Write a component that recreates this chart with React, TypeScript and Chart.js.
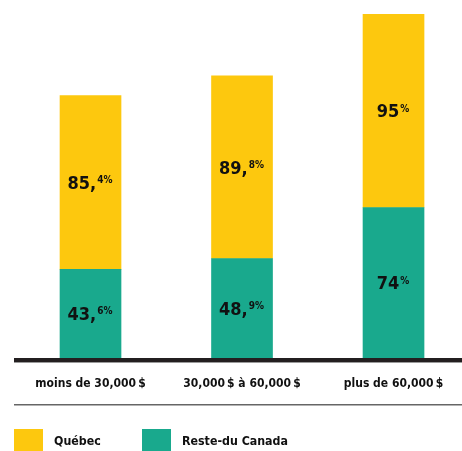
import React, { useEffect, useRef } from 'react';
import { Chart, registerables } from 'chart.js';

Chart.register(...registerables);

const categories = ['moins de 30,000\u2009$', '30,000\u2009$ à 60,000\u2009$', 'plus de 60,000\u2009$'];
const quebec = [85.4, 89.8, 95];
const resteDuCanada = [43.6, 48.9, 74];
const seriesLabels = ['Québec', 'Reste-du Canada'];
const seriesColors = ['#FDC80E', '#19A98D'];

const FONT = '"DejaVu Sans Condensed", "DejaVu Sans", sans-serif';

function splitValue(v: number): [string, string] {
  if (Number.isInteger(v)) return [String(v), '%'];
  const [a, b] = v.toFixed(1).split('.');
  return [a + ',', b + '%'];
}

const valueLabels = {
  id: 'valueLabels',
  afterDatasetsDraw(chart: any) {
    const ctx = chart.ctx;
    ctx.save();
    chart.data.datasets.forEach((ds: any, di: number) => {
      const meta = chart.getDatasetMeta(di);
      meta.data.forEach((bar: any, i: number) => {
        const raw = ds.data[i];
        const v = typeof raw === 'number' ? raw : raw.y;
        const [main, sup] = splitValue(v);
        const { x, y, base } = bar.getProps(['x', 'y', 'base'], true);
        const cy = (y + base) / 2;
        ctx.font = `bold 18px ${FONT}`;
        const w1 = ctx.measureText(main).width;
        ctx.font = `bold 10px ${FONT}`;
        const w2 = ctx.measureText(sup).width;
        const start = x - (w1 + w2) / 2 - 1;
        const baseline = cy + 6.5;
        ctx.fillStyle = '#111111';
        ctx.textAlign = 'left';
        ctx.textBaseline = 'alphabetic';
        ctx.font = `bold 18px ${FONT}`;
        ctx.fillText(main, start, baseline);
        ctx.font = `bold 10px ${FONT}`;
        ctx.fillText(sup, start + w1 + 1, baseline - 13 + 7.3);
      });
    });
    ctx.restore();
  },
};

const decorations = {
  id: 'decorations',
  afterDatasetsDraw(chart: any) {
    const ctx = chart.ctx;
    const { left, right, bottom } = chart.chartArea;
    ctx.save();
    ctx.fillStyle = '#231F20';
    ctx.fillRect(left, bottom, right - left, 4);
    ctx.fillStyle = '#9a9a9a';
    ctx.fillRect(left, bottom + 4, right - left, 1);
    ctx.fillStyle = '#666666';
    ctx.fillRect(left, bottom + 46, right - left, 1.5);
    // legend
    const items = [
      { label: seriesLabels[0], color: seriesColors[0], x: left },
      { label: seriesLabels[1], color: seriesColors[1], x: left + 128 },
    ];
    const top = bottom + 71;
    items.forEach((it) => {
      ctx.fillStyle = it.color;
      ctx.fillRect(it.x, top, 29, 25);
      ctx.fillStyle = '#111111';
      ctx.font = `bold 12.3px ${FONT}`;
      ctx.textAlign = 'left';
      ctx.textBaseline = 'middle';
      ctx.fillText(it.label, it.x + 40, top + 13);
    });
    ctx.restore();
  },
};

export default function App() {
  const ref = useRef<HTMLCanvasElement | null>(null);
  useEffect(() => {
    if (!ref.current) return;
    const chart = new Chart(ref.current, {
      type: 'bar',
      data: {
        datasets: [
          {
            label: seriesLabels[1],
            data: resteDuCanada.map((v, i) => ({ x: i, y: v })),
            backgroundColor: seriesColors[1],
            borderWidth: 0,
            barThickness: 61,
          },
          {
            label: seriesLabels[0],
            data: quebec.map((v, i) => ({ x: i, y: v })),
            backgroundColor: seriesColors[0],
            borderWidth: 0,
            barThickness: 61,
          },
        ],
      },
      options: {
        animation: false,
        responsive: false,
        devicePixelRatio: 1,
        layout: { padding: { left: 14, right: 0, top: 0, bottom: 0 } },
        plugins: { legend: { display: false }, tooltip: { enabled: false } },
        scales: {
          x: {
            type: 'linear',
            min: -0.505,
            max: 2.452,
            offset: false,
            stacked: true,
            grid: { display: false, offset: false },
            border: { display: false },
            afterBuildTicks: (s: any) => {
              s.ticks = categories.map((_, i) => ({ value: i }));
            },
            afterFit: (s: any) => {
              s.height = 93;
            },
            ticks: {
              callback: (v: any) => categories[v] ?? '',
              font: { family: FONT, size: 12, weight: 'bold' },
              color: '#111111',
              padding: 11,
              maxRotation: 0,
              autoSkip: false,
            },
          },
          y: { display: false, min: 0, max: 176, stacked: true },
        },
      } as any,
      plugins: [valueLabels, decorations],
    });
    return () => chart.destroy();
  }, []);
  return (
    <div style={{ position: 'absolute', left: 0, top: 0, width: 462, height: 451, background: '#fff' }}>
      <canvas ref={ref} width={462} height={451} />
    </div>
  );
}
